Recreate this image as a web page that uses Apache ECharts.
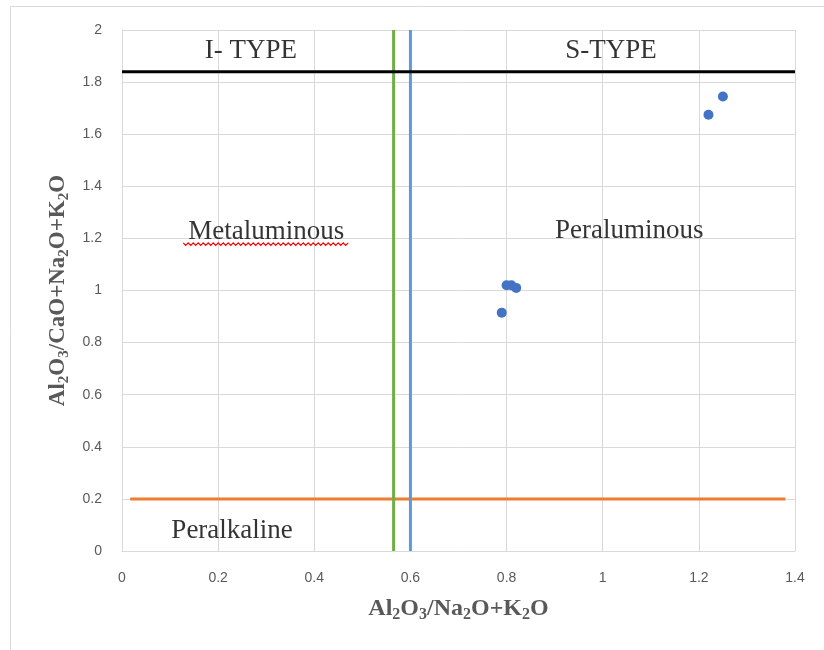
<!DOCTYPE html>
<html>
<head>
<meta charset="utf-8">
<script src="https://cdn.jsdelivr.net/npm/echarts@6/dist/echarts.min.js"></script>
<style>
  html, body { margin: 0; padding: 0; background: #fff; }
  #chart { width: 824px; height: 650px; }
</style>
</head>
<body>
<div id="chart"></div>
<script>
// 样品点
var sampleX = [0.79, 0.80, 0.81, 0.82, 1.22, 1.25];
var sampleY = [0.915, 1.02, 1.02, 1.01, 1.675, 1.745];

// 分界线
var lineBlack = [[0, 1.84], [1.4, 1.84]];
var lineGreen = [[0.565, 0], [0.565, 2]];
var lineBlue = [[0.6, 0], [0.6, 2]];
var lineOrange = [[0.017, 0.2], [1.38, 0.2]];

// 区域文字
var zoneText = ['I- TYPE', 'S-TYPE', 'Metaluminous', 'Peraluminous', 'Peralkaline'];
var zoneX = [0.268, 1.017, 0.3, 1.055, 0.229];
var zoneY = [1.92, 1.92, 1.225, 1.229, 0.077];

var xTicks = [0, 0.2, 0.4, 0.6, 0.8, 1, 1.2, 1.4];
var yTicks = [0, 0.2, 0.4, 0.6, 0.8, 1, 1.2, 1.4, 1.6, 1.8, 2];

var myChart = echarts.init(document.getElementById('chart'));

function titleRich(size) {
    return {
        n: { fontFamily: 'Liberation Serif', fontSize: size, fontWeight: 'bold', color: '#595959', lineHeight: size + 4 },
        s: { fontFamily: 'Liberation Serif', fontSize: Math.round(size * 0.65), fontWeight: 'bold', color: '#595959', lineHeight: size + 4, padding: [Math.round(size * 0.5), 0, 0, 0] }
    };
}

function lineSeries(data, color) {
    return {
        type: 'line',
        data: data,
        symbol: 'none',
        silent: true,
        lineStyle: { color: color, width: 3 },
        z: 3
    };
}

var frame = {
    type: 'rect',
    shape: { x: 10.5, y: 6.5, width: 900, height: 900 },
    style: { fill: 'none', stroke: '#d9d9d9', lineWidth: 1 },
    silent: true
};

var option = {
    backgroundColor: '#fff',
    animation: false,
    grid: { left: 122, right: 29, top: 30, bottom: 99 },
    xAxis: {
        type: 'value',
        min: 0, max: 1.4, interval: 0.2,
        name: '{n|Al}{s|2}{n|O}{s|3}{n|/Na}{s|2}{n|O+K}{s|2}{n|O}',
        nameLocation: 'middle',
        nameGap: 44,
        nameTextStyle: { rich: titleRich(24) },
        axisLine: { show: true, lineStyle: { color: '#d9d9d9' } },
        axisTick: { show: false },
        axisLabel: {
            margin: 20, color: '#595959', fontSize: 14, fontFamily: 'Liberation Sans',
            formatter: function (v) { return xTicks.indexOf(+v.toFixed(1)) >= 0 ? String(+v.toFixed(1)) : ''; }
        },
        splitLine: { show: true, lineStyle: { color: '#d9d9d9' } }
    },
    yAxis: {
        type: 'value',
        min: 0, max: 2, interval: 0.2,
        name: '{n|Al}{s|2}{n|O}{s|3}{n|/CaO+Na}{s|2}{n|O+K}{s|2}{n|O}',
        nameLocation: 'middle',
        nameRotate: 90,
        nameGap: 50,
        nameTextStyle: { rich: titleRich(23) },
        axisLine: { show: true, lineStyle: { color: '#d9d9d9' } },
        axisTick: { show: false },
        axisLabel: {
            margin: 20, color: '#595959', fontSize: 14, fontFamily: 'Liberation Sans',
            formatter: function (v) { return yTicks.indexOf(+v.toFixed(1)) >= 0 ? String(+v.toFixed(1)) : ''; }
        },
        splitLine: { show: true, lineStyle: { color: '#d9d9d9' } }
    },
    graphic: [frame],
    series: [
        lineSeries(lineOrange, '#ed7d31'),
        lineSeries(lineGreen, '#70ad47'),
        lineSeries(lineBlue, '#5b9bd5'),
        lineSeries(lineBlack, '#000000'),
        {
            type: 'scatter',
            data: sampleX.map(function (x, i) { return [x, sampleY[i]]; }),
            symbol: 'circle',
            symbolSize: 10,
            itemStyle: { color: '#4472c4', opacity: 1 },
            z: 5
        },
        {
            type: 'scatter',
            data: zoneText.map(function (t, i) { return { name: t, value: [zoneX[i], zoneY[i]] }; }),
            symbolSize: 0,
            silent: true,
            label: {
                show: true,
                position: 'inside',
                formatter: '{b}',
                fontFamily: 'Liberation Serif',
                fontSize: 27,
                color: '#000000'
            },
            z: 6
        }
    ]
};

myChart.setOption(option);

// 拼写检查的红色波浪线
var p = myChart.convertToPixel({ gridIndex: 0 }, [zoneX[2], zoneY[2]]);
var w = 166, pts = [];
for (var k = 0; k <= w / 2.5; k++) {
    pts.push([p[0] - w / 2 + k * 2.5, p[1] + 11 + (k % 2 ? 2.5 : 0)]);
}
myChart.setOption({
    graphic: [frame, {
        type: 'polyline',
        shape: { points: pts },
        style: { stroke: '#ff0000', lineWidth: 1.2, fill: 'none' },
        silent: true,
        z: 10
    }]
});
</script>
</body>
</html>
